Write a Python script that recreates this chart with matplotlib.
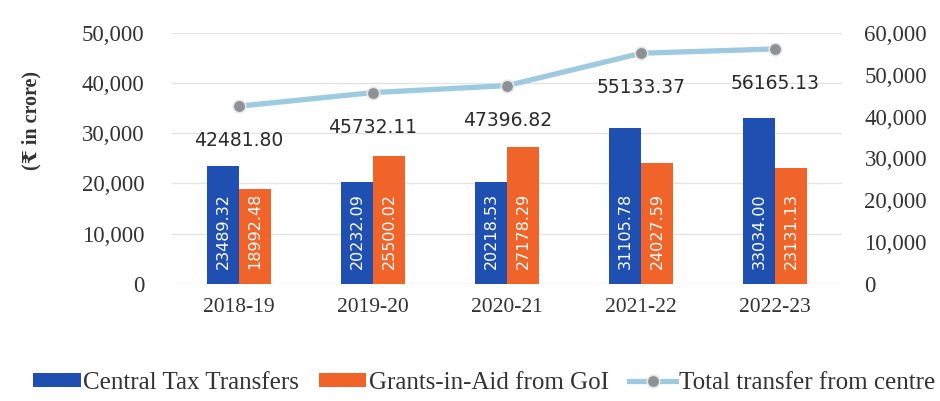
import numpy as np
import matplotlib.pyplot as plt
from matplotlib.ticker import FuncFormatter

# ── data ──────────────────────────────────────────────────────────
years = ["2018-19", "2019-20", "2020-21", "2021-22", "2022-23"]
central_tax = [23489.32, 20232.09, 20218.53, 31105.78, 33034.00]
grants_aid = [18992.48, 25500.02, 27178.29, 24027.59, 23131.13]
total_transfer = [42481.80, 45732.11, 47396.82, 55133.37, 56165.13]

BLUE = "#1f4fb0"
ORANGE = "#f0642a"
LINE = "#9ecae1"
serif = ["Liberation Serif", "DejaVu Serif"]

fig = plt.figure(figsize=(9.4, 4.01), dpi=100)
ax = fig.add_axes([0.183, 0.292, 0.713, 0.626])
ax2 = ax.twinx()

x = np.arange(len(years))
w = 0.24
b1 = ax.bar(x - w / 2, central_tax, w, color=BLUE, label="Central Tax Transfers", zorder=3)
b2 = ax.bar(x + w / 2, grants_aid, w, color=ORANGE, label="Grants-in-Aid from GoI", zorder=3)

# value labels inside bars (rotated, near the base)
for bars, vals in ((b1, central_tax), (b2, grants_aid)):
    for rect, v in zip(bars, vals):
        ax.annotate(f"{v:.2f}", (rect.get_x() + rect.get_width() / 2, 0),
                    xytext=(0, 11), textcoords="offset points",
                    rotation=90, ha="center", va="bottom",
                    color="white", fontsize=11.5, zorder=4)

# total line on right axis
ax2.plot(x, total_transfer, color=LINE, lw=3.8, marker="o", ms=9,
         mfc="#8c9196", mec="#e6e6e6", mew=1.2, label="Total transfer from centre",
         zorder=5)
for xi, v in zip(x, total_transfer):
    ax2.annotate(f"{v:.2f}", (xi, v), xytext=(0, -25), textcoords="offset points",
                 ha="center", va="center", fontsize=13.5, color="#2b2b2b")

# axes styling
ax.set_xlim(-0.5, len(years) - 0.5)
ax.set_ylim(0, 50000)
ax2.set_ylim(0, 60000)
ax.set_yticks(np.arange(0, 50001, 10000))
ax2.set_yticks(np.arange(0, 60001, 10000))
fmt = FuncFormatter(lambda v, p: f"{int(v):,}")
ax.yaxis.set_major_formatter(fmt)
ax2.yaxis.set_major_formatter(fmt)
ax.set_xticks(x)
ax.set_xticklabels(years)

ax.grid(axis="y", color="#e3e3e3", lw=1, zorder=0)
ax.set_axisbelow(True)
for a in (ax, ax2):
    for s in a.spines.values():
        s.set_visible(False)
    a.tick_params(length=0, labelsize=16.5, labelcolor="#333333")
    for lab in a.get_xticklabels() + a.get_yticklabels():
        lab.set_family(serif)
ax.tick_params(axis="x", labelsize=15.5, pad=10)
ax.tick_params(axis="y", pad=20)
ax2.tick_params(axis="y", pad=16)

ax.set_ylabel("(₹ in crore)", family=serif, fontweight="bold", fontsize=14.5,
              color="#333333")
ax.yaxis.set_label_coords(-0.195, 0.65)

# legend at the bottom
h1, l1 = ax.get_legend_handles_labels()
h2, l2 = ax2.get_legend_handles_labels()
fig.legend(h1 + h2, l1 + l2, loc="center", bbox_to_anchor=(0.515, 0.045), ncol=3,
           frameon=False, prop={"family": serif, "size": 18}, handlelength=1.9,
           handleheight=0.5, handletextpad=0.1, columnspacing=0.8,
           labelcolor="#333333")

plt.savefig("out.png", dpi=100)
